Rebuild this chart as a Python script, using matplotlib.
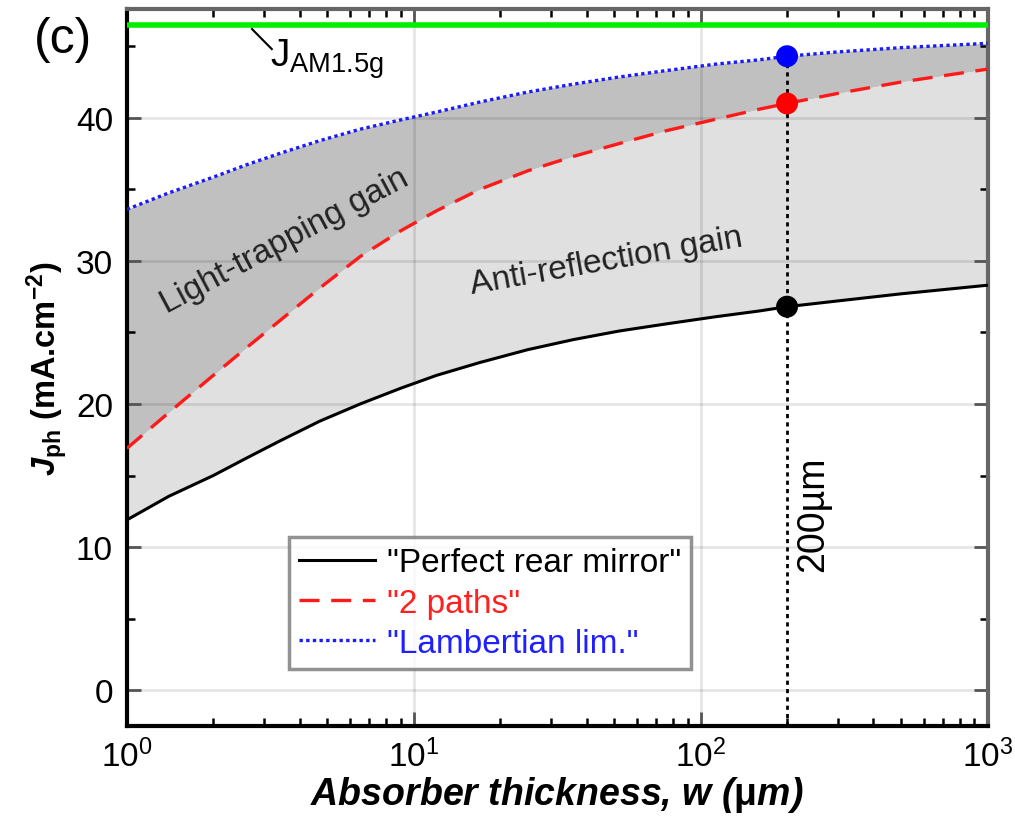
import matplotlib

matplotlib.use("Agg")
import matplotlib.pyplot as plt
from matplotlib.ticker import LogLocator, MultipleLocator, NullFormatter

plt.rcParams["font.family"] = ["Liberation Sans", "DejaVu Sans"]
plt.rcParams["mathtext.fontset"] = "custom"
plt.rcParams["mathtext.rm"] = "Liberation Sans"
plt.rcParams["mathtext.it"] = "Liberation Sans:italic"
plt.rcParams["mathtext.bf"] = "Liberation Sans:bold"
plt.rcParams["mathtext.bfit"] = "Liberation Sans:bold:italic"

# ── data ───────────────────────────────────────────────────
thickness = [1, 1.4, 2, 2.6, 3.4, 4.7, 6.5, 9, 12, 17, 25, 36, 52, 76, 113, 160, 200, 300, 500, 1000]
j_mirror = [11.9, 13.55, 15.0, 16.2, 17.4, 18.8, 20.0, 21.1, 22.0, 22.9, 23.8, 24.5, 25.1, 25.6, 26.1, 26.5, 26.8, 27.2, 27.7, 28.3]
j_2paths = [16.9, 19.4, 22.0, 23.9, 25.8, 28.1, 30.3, 32.1, 33.5, 35.0, 36.3, 37.3, 38.2, 39.1, 39.9, 40.6, 41.0, 41.7, 42.5, 43.4]
j_lambert = [33.6, 34.75, 35.85, 36.7, 37.5, 38.4, 39.2, 39.85, 40.4, 41.1, 41.8, 42.35, 42.85, 43.3, 43.75, 44.05, 44.3, 44.6, 44.9, 45.2]
j_am15g = 46.5
w_mark = 200
j_mark = [26.8, 41.0, 44.3]

fig = plt.figure(figsize=(10.15, 8.2), dpi=100)
ax = fig.add_axes([0.125, 0.1134, 0.848, 0.8744])

# shaded gains
ax.fill_between(thickness, j_2paths, j_lambert, color="#c0c0c0", lw=0, zorder=0.2)
ax.fill_between(thickness, j_mirror, j_2paths, color="#e0e0e0", lw=0, zorder=0.2)

ax.axhline(j_am15g, color="#00ee00", lw=4, zorder=3)

ax.plot(thickness, j_mirror, color="black", lw=2.2, label='"Perfect rear mirror"', zorder=4)
ax.plot(thickness, j_2paths, color="#ff1a1a", lw=2.4, ls=(0, (6, 3.5)), label='"2 paths"', zorder=4)
ax.plot(thickness, j_lambert, color="#1a1aff", lw=2.4, ls=(0, (1, 1)), label='"Lambertian lim."', zorder=4)

ax.plot([w_mark, w_mark], [-2.5, j_mark[2]], color="black", lw=2, ls=(0, (1.5, 1.5)), zorder=3)
ax.scatter([w_mark] * 3, j_mark, s=250, c=["black", "red", "blue"], zorder=5, lw=0)

ax.set_xscale("log")
ax.set_xlim(1, 1000)
ax.set_ylim(-2.5, 47.6)

ax.xaxis.set_major_locator(LogLocator(base=10, numticks=10))
ax.xaxis.set_minor_locator(LogLocator(base=10, subs=range(2, 10), numticks=20))
ax.xaxis.set_minor_formatter(NullFormatter())
ax.yaxis.set_major_locator(MultipleLocator(10))
ax.yaxis.set_minor_locator(MultipleLocator(5))

ax.grid(True, which="major", color="black", alpha=0.1, lw=2)
ax.set_axisbelow(True)

ax.tick_params(which="both", direction="in", top=True, right=True, labelsize=24)
ax.tick_params(axis="x", which="major", pad=9)
ax.tick_params(axis="y", which="major", pad=10)
ax.tick_params(which="major", length=10, width=2, color="#555555")
ax.tick_params(which="minor", length=6, width=1.8, color="black")
for side in ["left", "bottom"]:
    ax.spines[side].set_linewidth(3)
    ax.spines[side].set_color("black")
for side in ["top", "right"]:
    ax.spines[side].set_linewidth(3)
    ax.spines[side].set_color("#666666")

ax.set_xlabel(r"Absorber thickness, $\mathbfit{w}$ ($\mathbf{\mu}$m)", fontsize=27,
              fontweight="bold", style="italic", labelpad=1)
ax.set_ylabel(r"$\mathbfit{J}_{\mathbf{ph}}$ (mA.cm$^{\mathbf{-2}}$)", fontsize=23.5,
              fontweight="bold", labelpad=4)

ax.text(3.55, 31.4, "Light-trapping gain", rotation=28, fontsize=24,
        ha="center", va="center", color="#222222")
ax.text(46.7, 30.0, "Anti-reflection gain", rotation=10, fontsize=24,
        ha="center", va="center", color="#222222")
ax.text(246, 12.4, "200µm", rotation=90, fontsize=27, ha="center", va="center")

# J_AM1.5g label with its pointer line
ax.plot([2.73, 3.2], [46.2, 44.8], color="black", lw=1.5, zorder=3)
ax.text(3.15, 44.2, r"$\mathrm{J}_{\mathrm{AM1.5g}}$", fontsize=28, ha="left", va="center")

fig.text(0.062, 0.951, "(c)", fontsize=36, ha="center", va="center")

leg = ax.legend(loc="lower left", bbox_to_anchor=(0.188, 0.0795), fontsize=24,
                frameon=True, fancybox=False, handlelength=2.3, handletextpad=0.35,
                borderpad=0.3, labelspacing=0.28, borderaxespad=0)
leg.get_frame().set_edgecolor("#777777")
leg.get_frame().set_linewidth(2.5)
for txt, col in zip(leg.get_texts(), ["black", "#ff2020", "#2020ff"]):
    txt.set_color(col)

fig.savefig("out.png", dpi=100)
